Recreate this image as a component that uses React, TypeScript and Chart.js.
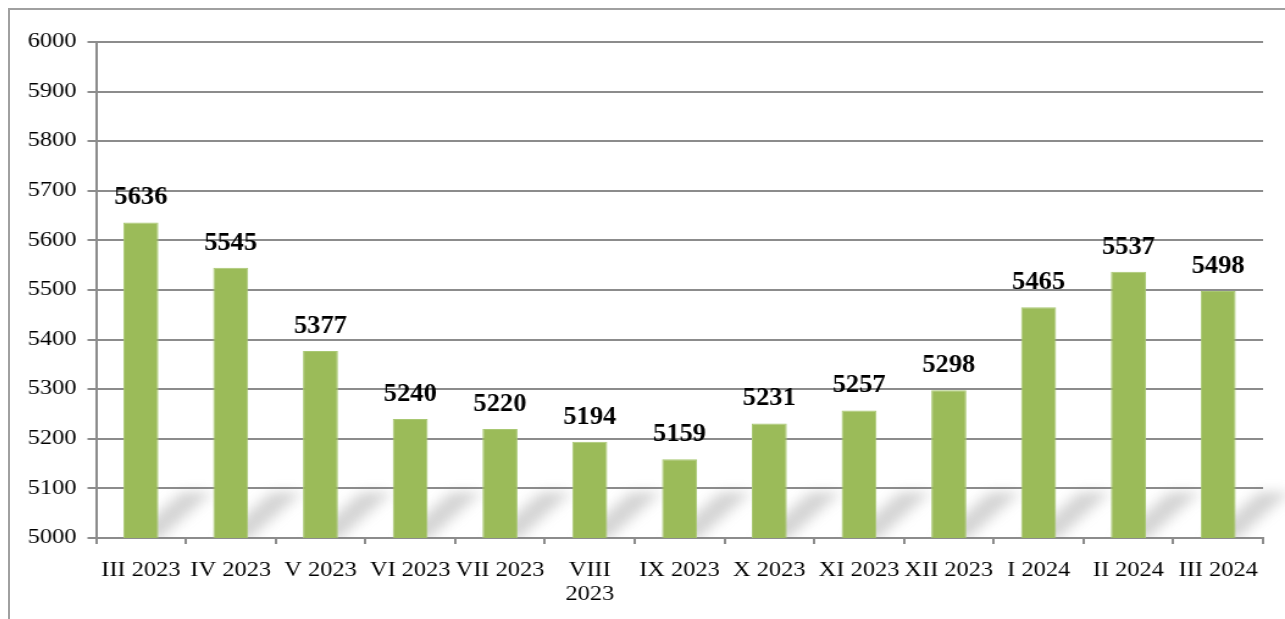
import React, { useEffect, useRef } from "react";
import { Chart, registerables } from "chart.js";

Chart.register(...registerables);

const categories: (string | string[])[] = [
  "III 2023", "IV 2023", "V 2023", "VI 2023", "VII 2023", ["VIII", "2023"],
  "IX 2023", "X 2023", "XI 2023", "XII 2023", "I 2024", "II 2024", "III 2024",
];
const values: number[] = [5636, 5545, 5377, 5240, 5220, 5194, 5159, 5231, 5257, 5298, 5465, 5537, 5498];
const yMin = 5000;
const yMax = 6000;
const yStep = 100;

const FONT = "'Liberation Serif', 'Times New Roman', serif";
const STRETCH = 1.22;
const CSS_W = 1275;
const CSS_H = 609;
const INT_W = Math.round(CSS_W / STRETCH);

const valueLabels = {
  id: "valueLabels",
  afterDatasetsDraw(chart: any) {
    const ctx = chart.ctx;
    const meta = chart.getDatasetMeta(0);
    const sx = 1.06 / STRETCH;
    ctx.save();
    ctx.font = `bold 25px ${FONT}`;
    ctx.fillStyle = "#000";
    ctx.textAlign = "center";
    ctx.textBaseline = "bottom";
    meta.data.forEach((bar: any, i: number) => {
      ctx.save();
      ctx.translate(bar.x, bar.y - 12);
      ctx.scale(sx, 1);
      ctx.fillText(String(values[i]), 0, 0);
      ctx.restore();
    });
    ctx.restore();
  },
};

const floorShadows = {
  id: "floorShadows",
  beforeDatasetsDraw(chart: any) {
    const ctx = chart.ctx;
    const meta = chart.getDatasetMeta(0);
    const area = chart.chartArea;
    const bottom = area.bottom;
    ctx.save();
    ctx.beginPath();
    ctx.rect(area.left, area.top, area.right - area.left + 40, area.bottom - area.top);
    ctx.clip();
    ctx.filter = "blur(6px)";
    ctx.fillStyle = "rgba(120,120,120,0.33)";
    meta.data.forEach((bar: any) => {
      const half = bar.width / 2;
      const x0 = bar.x - half + 4;
      const x1 = bar.x + half;
      const h = 46;
      const d = 44;
      ctx.beginPath();
      ctx.moveTo(x0, bottom + 2);
      ctx.lineTo(x1, bottom + 2);
      ctx.lineTo(x1 + d, bottom - h);
      ctx.lineTo(x0 + d, bottom - h);
      ctx.closePath();
      ctx.fill();
    });
    ctx.restore();
  },
};

export default function App() {
  const ref = useRef<HTMLCanvasElement | null>(null);
  useEffect(() => {
    if (!ref.current) return;
    const chart = new Chart(ref.current, {
      type: "bar",
      data: {
        labels: categories,
        datasets: [
          {
            data: values,
            backgroundColor: "#9BBB59",
            borderColor: "#A9C873",
            borderWidth: 1,
            barPercentage: 0.39,
            categoryPercentage: 1,
          },
        ],
      },
      options: {
        animation: false,
        responsive: false,
        maintainAspectRatio: false,
        devicePixelRatio: 1,
        layout: { padding: { left: 0, right: 18, top: 32, bottom: 0 } },
        plugins: { legend: { display: false }, tooltip: { enabled: false } },
        scales: {
          x: {
            offset: true,
            grid: {
              offset: true,
              drawOnChartArea: false,
              drawTicks: true,
              tickLength: 6,
              color: "#8c8c8c",
              lineWidth: 2,
            },
            border: { color: "#8c8c8c", width: 2 },
            ticks: {
              color: "#000",
              font: { family: FONT, size: 20 },
              maxRotation: 0,
              autoSkip: false,
              padding: 15,
            },
            afterFit(scale: any) {
              scale.height = 81;
            },
          },
          y: {
            min: yMin,
            max: yMax,
            grid: { color: "#8c8c8c", lineWidth: 2, tickLength: 7 },
            border: { color: "#8c8c8c", width: 2 },
            ticks: {
              stepSize: yStep,
              color: "#000",
              font: { family: FONT, size: 20 },
              padding: 9,
              callback: (v: any) => String(v),
            },
            afterFit(scale: any) {
              scale.width = 70.5;
            },
          },
        },
      },
      plugins: [floorShadows, valueLabels],
    });
    return () => chart.destroy();
  }, []);

  return (
    <div
      style={{
        position: "absolute",
        left: 8,
        top: 8,
        right: 0,
        bottom: 0,
        borderLeft: "2px solid #a0a0a0",
        borderTop: "2px solid #a0a0a0",
        overflow: "hidden",
        background: "#fff",
      }}
    >
      <canvas
        ref={ref}
        width={INT_W}
        height={CSS_H}
        style={{ display: "block", width: CSS_W + "px", height: CSS_H + "px" }}
      />
    </div>
  );
}
